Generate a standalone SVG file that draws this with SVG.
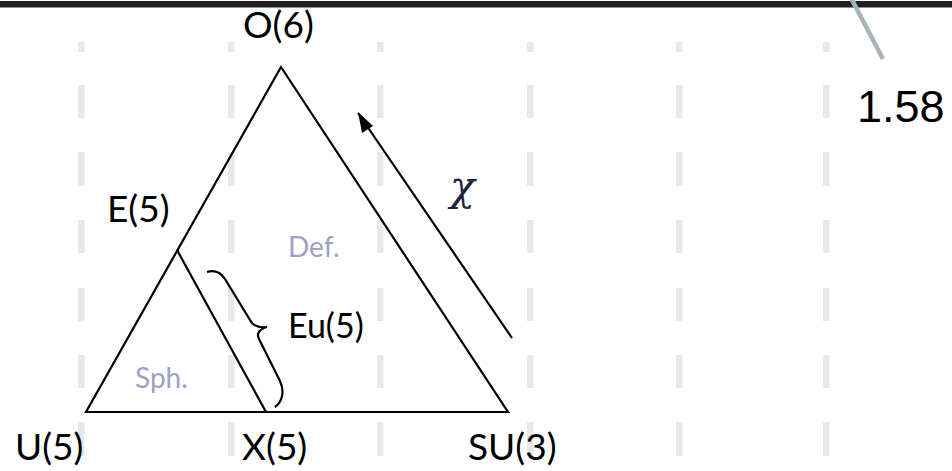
<svg xmlns="http://www.w3.org/2000/svg" width="952" height="471" viewBox="0 0 952 471">
<style>
.lbl{font-family:Lato,"Open Sans","Liberation Sans",sans-serif;font-size:37px;fill:#000}
.region{font-family:Lato,"Open Sans","Liberation Sans",sans-serif;font-size:28px;fill:#a0a0c8}
.ln{fill:none;stroke:#000;stroke-width:2.2;stroke-linejoin:miter}
.dash{fill:#e8e8e8}
</style>
<defs>
<g id="dcol">
<rect x="0" y="42" width="6.5" height="10"/>
<rect x="0" y="85" width="6.5" height="33"/>
<rect x="0" y="152" width="6.5" height="34"/>
<rect x="0" y="220" width="6.5" height="33"/>
<rect x="0" y="288" width="6.5" height="33"/>
<rect x="0" y="355" width="6.5" height="33"/>
<rect x="0" y="422" width="6.5" height="34"/>
</g>
</defs>
<rect width="952" height="471" fill="#fff"/>
<g id="gridlines" class="dash">
<use href="#dcol" x="78"/>
<use href="#dcol" x="228"/>
<use href="#dcol" x="377"/>
<use href="#dcol" x="527"/>
<use href="#dcol" x="676"/>
<use href="#dcol" x="823"/>
</g>
<rect id="topbar" x="0" y="1" width="952" height="6.5" fill="#231f20"/>
<line id="pointer" x1="851" y1="-2" x2="883" y2="59" stroke="#a8b4bc" stroke-width="4.5"/>
<g id="triangle-outer">
<polygon class="ln" points="281,67 86,412 508,412"/>
</g>
<g id="triangle-inner">
<line class="ln" x1="177" y1="250" x2="266" y2="412"/>
</g>
<g id="connectors">
<line x1="512" y1="338" x2="358" y2="113" stroke="#000" stroke-width="2.2"/>
<path d="M358,112 L373,126 L362,133 Z" fill="#000"/>
<path class="ln" d="M207,272 C216,269 221,273 225,279 L250,320 C253,326 259,328 267,327 C260,329 256,333 259,339 L280,381 C285,392 282,402 275,407"/>
</g>
<g id="node-O"><text class="lbl" x="243" y="38">O(6)</text></g>
<g id="node-E"><text class="lbl" x="107" y="222">E(5)</text></g>
<g id="node-U"><text class="lbl" x="15" y="460">U(5)</text></g>
<g id="node-X"><text class="lbl" x="242" y="460">X(5)</text></g>
<g id="node-SU"><text class="lbl" x="468" y="460">SU(3)</text></g>
<g id="node-Eu"><text class="lbl" x="288" y="338" style="font-size:34px">Eu(5)</text></g>
<g id="region-Def"><text class="region" x="288" y="257">Def.</text></g>
<g id="region-Sph"><text class="region" x="135" y="388">Sph.</text></g>
<g id="chi"><text x="450" y="200" style="font-family:'DejaVu Serif',serif;font-style:italic;font-size:41px;fill:#222240">χ</text></g>
<g id="value"><text x="857" y="122" style="font-family:'Liberation Sans',Arial,sans-serif;font-size:45px;fill:#000">1.58</text></g>
</svg>
